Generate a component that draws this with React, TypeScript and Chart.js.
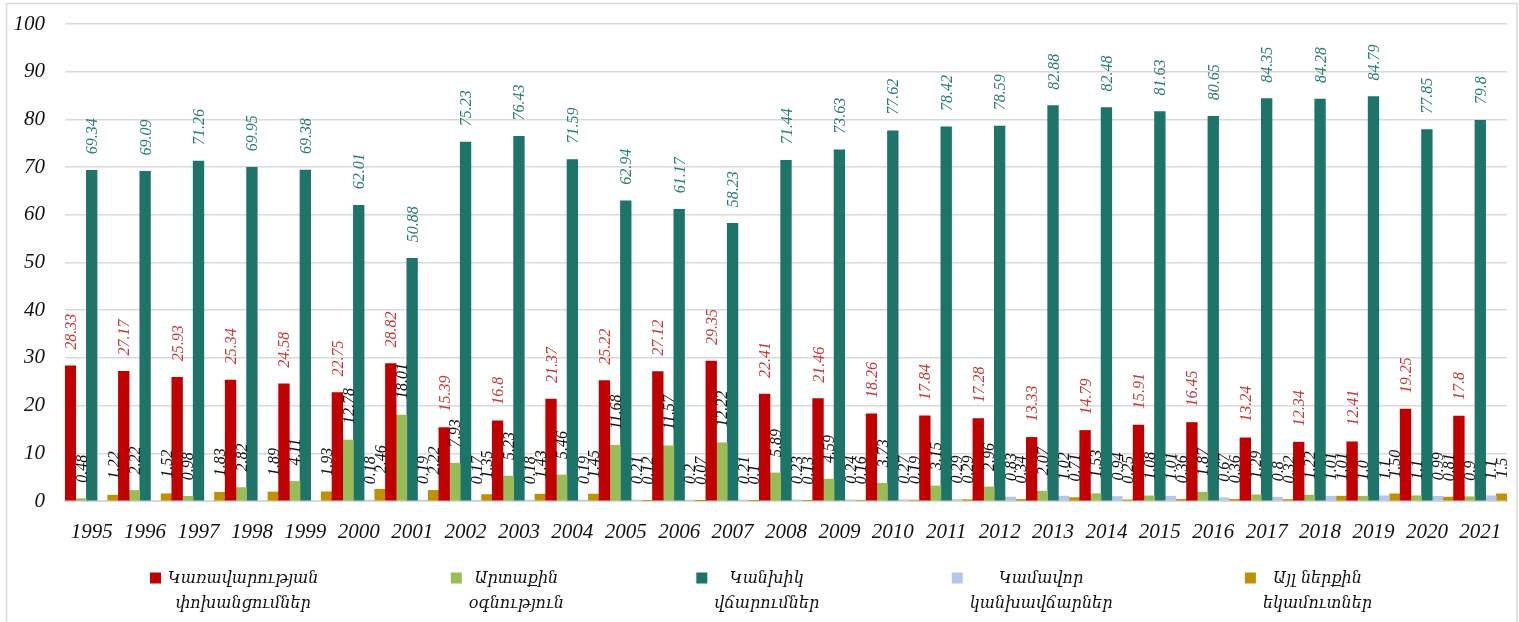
import { useEffect, useRef } from 'react';
import { Chart, registerables } from 'chart.js';

Chart.register(...registerables);

const years = ['1995', '1996', '1997', '1998', '1999', '2000', '2001', '2002', '2003', '2004', '2005', '2006', '2007', '2008', '2009', '2010', '2011', '2012', '2013', '2014', '2015', '2016', '2017', '2018', '2019', '2020', '2021'];

// Կառավարության փոխանցումներ
const govTransfers = ['28.33', '27.17', '25.93', '25.34', '24.58', '22.75', '28.82', '15.39', '16.8', '21.37', '25.22', '27.12', '29.35', '22.41', '21.46', '18.26', '17.84', '17.28', '13.33', '14.79', '15.91', '16.45', '13.24', '12.34', '12.41', '19.25', '17.8'];
// Արտաքին օգնություն
const foreignAid = ['0.48', '2.22', '0.98', '2.82', '4.11', '12.78', '18.01', '7.93', '5.23', '5.46', '11.68', '11.57', '12.22', '5.89', '4.59', '3.73', '3.15', '2.96', '2.07', '1.53', '1.08', '1.87', '1.29', '1.22', '1.0', '1.1', '0.9'];
// Կանխիկ վճարումներ
const cashPayments = ['69.34', '69.09', '71.26', '69.95', '69.38', '62.01', '50.88', '75.23', '76.43', '71.59', '62.94', '61.17', '58.23', '71.44', '73.63', '77.62', '78.42', '78.59', '82.88', '82.48', '81.63', '80.65', '84.35', '84.28', '84.79', '77.85', '79.8'];
// Կամավոր կանխավճարներ
const prepayments = [null, null, null, null, null, '0.18', '0.19', '0.17', '0.18', '0.19', '0.21', '0.2', '0.21', '0.23', '0.24', '0.27', '0.29', '0.83', '1.02', '0.94', '1.01', '0.67', '0.8', '1.01', '1.1', '0.99', '1.1'];
// Այլ ներքին եկամուտներ
const otherIncome = ['1.22', '1.52', '1.83', '1.89', '1.93', '2.46', '2.22', '1.35', '1.43', '1.45', '0.12', '0.07', '0.1', '0.13', '0.16', '0.19', '0.29', '0.34', '0.71', '0.25', '0.36', '0.36', '0.32', '1.01', '1.50', '0.81', '1.5'];

const seriesNames = [
  ['Կառավարության', 'փոխանցումներ'],
  ['Արտաքին', 'օգնություն'],
  ['Կանխիկ', 'վճարումներ'],
  ['Կամավոր', 'կանխավճարներ'],
  ['Այլ ներքին', 'եկամուտներ'],
];
const seriesData = [govTransfers, foreignAid, cashPayments, prepayments, otherIncome];
const barColors = ['#C00000', '#9BBB59', '#1F7469', '#B4C7E7', '#BF9000'];
const labelColors = ['#C33B3B', '#111111', '#2A7D72', '#111111', '#111111'];

const SERIF = '"Liberation Serif", "DejaVu Serif", serif';
const ARM = '"DejaVu Serif", serif';

const framePlugin = {
  id: 'frame',
  beforeDraw(chart: any) {
    const ctx = chart.ctx;
    ctx.save();
    ctx.fillStyle = '#ffffff';
    ctx.fillRect(0, 0, chart.width, chart.height);
    ctx.strokeStyle = '#d9d9d9';
    ctx.lineWidth = 1.5;
    ctx.strokeRect(6.5, 3.5, chart.width - 2 - 6.5, chart.height + 20);
    ctx.restore();
  },
};

const valueLabelPlugin = {
  id: 'valueLabels',
  afterDatasetsDraw(chart: any) {
    const ctx = chart.ctx;
    chart.data.datasets.forEach((ds: any, i: number) => {
      const meta = chart.getDatasetMeta(i);
      meta.data.forEach((el: any, j: number) => {
        const raw = ds.data[j];
        if (raw === null || raw === undefined) return;
        ctx.save();
        ctx.translate(el.x, el.y - 16);
        ctx.rotate(-Math.PI / 2);
        ctx.font = 'italic 16px ' + SERIF;
        ctx.fillStyle = ds.labelColor;
        ctx.textAlign = 'left';
        ctx.textBaseline = 'alphabetic';
        ctx.fillText(String(raw), 0, 5.5);
        ctx.restore();
      });
    });
  },
};

const legendPlugin = {
  id: 'customLegend',
  afterDraw(chart: any) {
    const ctx = chart.ctx;
    ctx.save();
    ctx.font = 'italic 16px ' + ARM;
    const box = 11;
    const boxGap = 7;
    const left = 150;
    const right = 1372;
    const items = chart.data.datasets.map((ds: any) => {
      const lines: string[] = ds.legendLines;
      const tw = Math.max(...lines.map((l) => ctx.measureText(l).width));
      return { lines, color: ds.backgroundColor, tw, w: box + boxGap + tw };
    });
    const sum = items.reduce((s: number, it: any) => s + it.w, 0);
    const gap = (right - left - sum) / (items.length - 1);
    let x = left;
    const y1 = 579;
    const y2 = 604;
    items.forEach((it: any) => {
      ctx.fillStyle = it.color;
      ctx.fillRect(x, y1 - box / 2 - 1, box, box);
      const cx = x + box + boxGap + it.tw / 2;
      ctx.fillStyle = '#111111';
      ctx.textAlign = 'center';
      ctx.textBaseline = 'middle';
      ctx.fillText(it.lines[0], cx, y1);
      if (it.lines[1]) ctx.fillText(it.lines[1], cx, y2);
      x += it.w + gap;
    });
    ctx.restore();
  },
};

export default function App() {
  const canvasRef = useRef<HTMLCanvasElement | null>(null);

  useEffect(() => {
    if (!canvasRef.current) return;
    const chart = new Chart(canvasRef.current, {
      type: 'bar',
      data: {
        labels: years,
        datasets: seriesData.map((d, i) => ({
          label: seriesNames[i].join(' '),
          legendLines: seriesNames[i],
          labelColor: labelColors[i],
          data: d as any,
          backgroundColor: barColors[i],
          borderWidth: 0,
          categoryPercentage: 1.0,
          barPercentage: 1.0,
        })) as any,
      },
      options: {
        animation: false,
        responsive: false,
        devicePixelRatio: 1,
        layout: { padding: { left: 0, right: 12, top: 24, bottom: 0 } },
        plugins: {
          legend: { display: false },
          tooltip: { enabled: false },
        },
        scales: {
          x: {
            grid: { display: false, drawTicks: false },
            border: { display: true, color: '#d9d9d9', width: 2 },
            ticks: {
              font: { family: SERIF, size: 21, style: 'italic' },
              color: '#111111',
              padding: 19,
              autoSkip: false,
              maxRotation: 0,
            },
            afterFit: (s: any) => {
              s.height = 121;
              s.paddingLeft = 0;
              s.paddingRight = 0;
            },
          },
          y: {
            min: 0,
            max: 100,
            grid: { color: '#d9d9d9', lineWidth: 1.5, drawTicks: false },
            border: { display: false },
            ticks: {
              stepSize: 10,
              font: { family: SERIF, size: 21, style: 'italic' },
              color: '#111111',
              padding: 20,
            },
            afterFit: (s: any) => {
              s.width = 65;
              s.paddingTop = 0;
              s.paddingBottom = 0;
            },
          },
        },
      },
      plugins: [framePlugin, valueLabelPlugin, legendPlugin],
    });
    return () => chart.destroy();
  }, []);

  return (
    <div style={{ position: 'absolute', left: 0, top: 0, width: 1519, height: 622 }}>
      <canvas ref={canvasRef} width={1519} height={622} style={{ width: 1519, height: 622, display: 'block' }} />
    </div>
  );
}
